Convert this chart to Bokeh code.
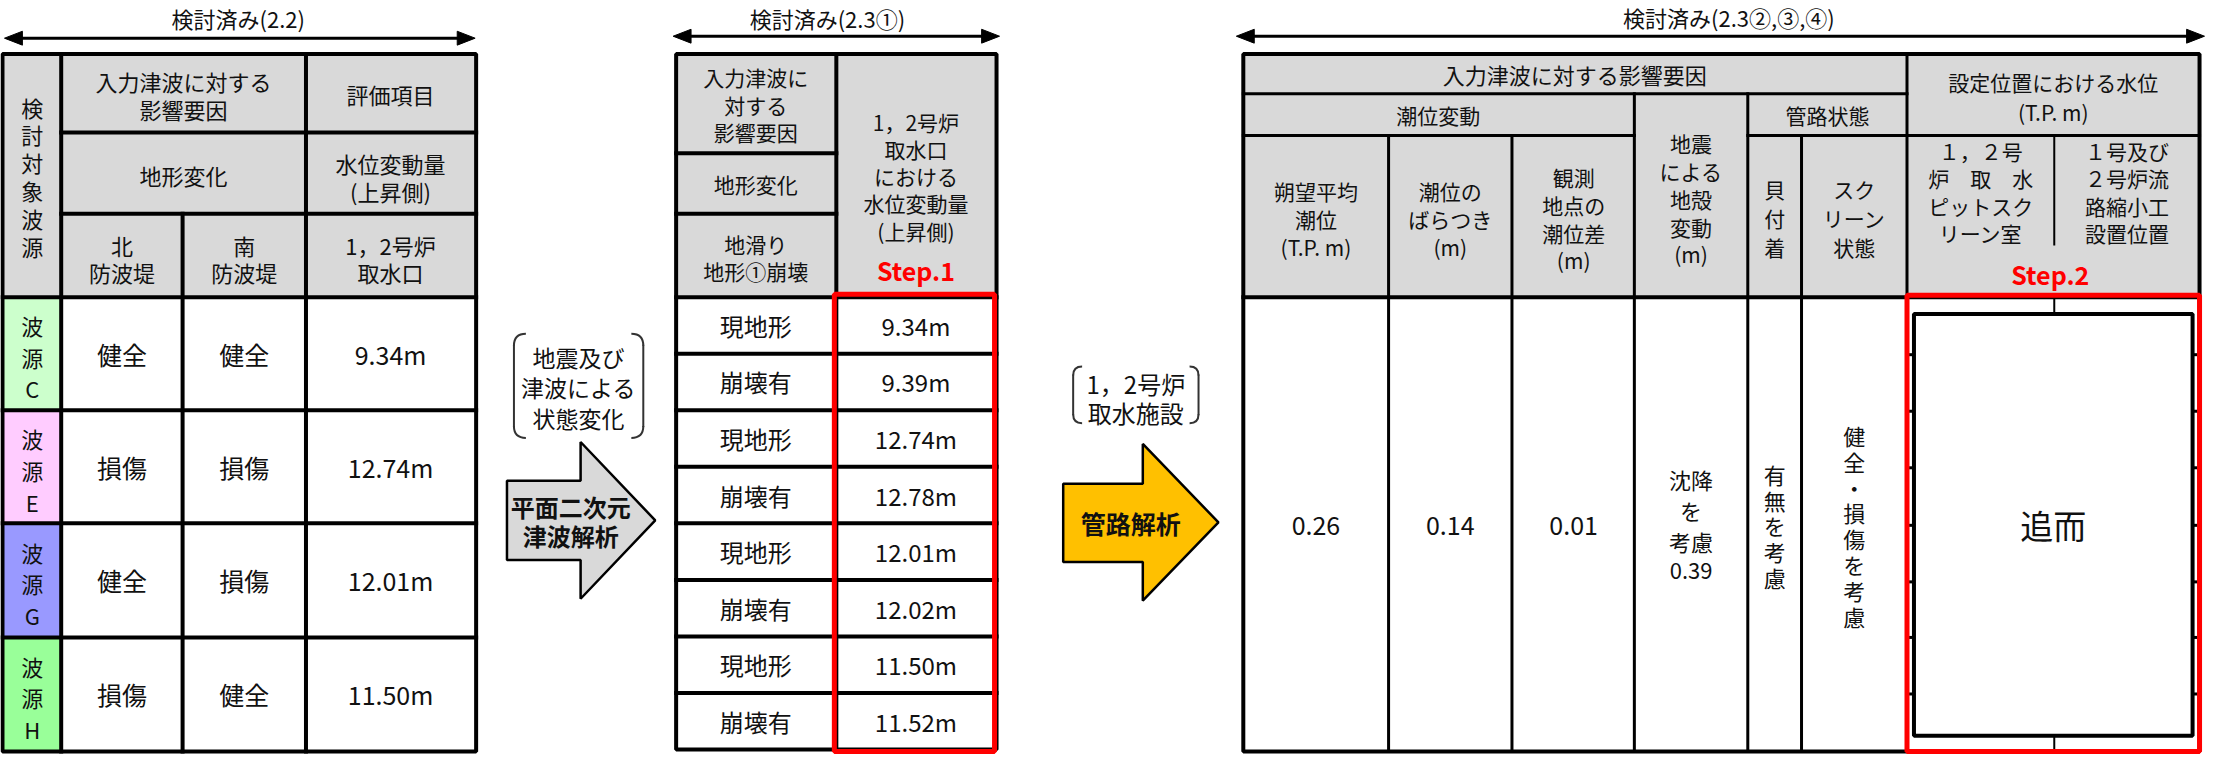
from bokeh.plotting import figure
from bokeh.models import Range1d
from bokeh.core.properties import value
from bokeh.embed import file_html
from bokeh.resources import INLINE

FONT = "Noto Sans CJK JP"

# ---------------- data ----------------
section_titles = ["検討済み(2.2)", "検討済み(2.3①)", "検討済み(2.3②,③,④)"]
wave_sources = ["C", "E", "G", "H"]
north_breakwater = ["健全", "損傷", "健全", "損傷"]
south_breakwater = ["健全", "損傷", "損傷", "健全"]
intake_rise_22 = [9.34, 12.74, 12.01, 11.50]
terrain_states = ["現地形", "崩壊有", "現地形", "崩壊有", "現地形", "崩壊有", "現地形", "崩壊有"]
intake_rise_231 = [9.34, 9.39, 12.74, 12.78, 12.01, 12.02, 11.50, 11.52]
mean_tide_level = 0.26
tide_variation = 0.14
observed_tide_diff = 0.01
crustal_subsidence = 0.39
barnacle_text = "有無を考慮"
screen_text = "健全・損傷を考慮"
pending_text = "追而"
step_labels = ["Step.1", "Step.2"]
arrow_labels = [["平面二次元", "津波解析"], ["管路解析"]]
bracket_labels = [["地震及び", "津波による", "状態変化"], ["1，2号炉", "取水施設"]]

# ---------------- styles ----------------
GRAY = "#d9d9d9"
SRC_COLORS = ["#ccffcc", "#ffccff", "#9999ff", "#99ff99"]
RED = "#ff0000"
ORANGE = "#ffc000"

p = figure(width=2207, height=755, x_range=Range1d(4, 2222), y_range=Range1d(767, 6),
           output_backend="svg", toolbar_location=None, min_border=0,
           x_axis_location=None, y_axis_location=None)
p.grid.visible = False
p.outline_line_color = None
p.background_fill_color = "white"
p.border_fill_color = "white"

texts = {}
def T(x, y, s, size=22, bold=False, color="#111111"):
    d = texts.setdefault((size, bold, color), {"x": [], "y": [], "t": []})
    d["x"].append(x); d["y"].append(y); d["t"].append(s)

def ML(x, yc, lines, spacing, **kw):
    n = len(lines)
    for i, s in enumerate(lines):
        T(x, yc + (i - (n - 1) / 2) * spacing, s, **kw)

def VT(x, yc, s, spacing, **kw):
    ML(x, yc, list(s), spacing, **kw)

segs = {}
def L(x0, y0, x1, y1, w=4, color="black"):
    d = segs.setdefault((w, color), {"x0": [], "y0": [], "x1": [], "y1": []})
    d["x0"].append(x0); d["y0"].append(y0); d["x1"].append(x1); d["y1"].append(y1)

fills = {"l": [], "r": [], "t": [], "b": [], "c": []}
def F(l, r, t, b, c):
    fills["l"].append(l); fills["r"].append(r); fills["t"].append(t); fills["b"].append(b); fills["c"].append(c)

# ---------------- section titles & double arrows ----------------
heads_x, heads_y = [], []
def dbl_arrow(x0, x1, y):
    L(x0 + 10, y, x1 - 10, y, w=3)
    heads_x.extend([[x0, x0 + 18, x0 + 18], [x1, x1 - 18, x1 - 18]])
    heads_y.extend([[y, y - 7, y + 7], [y, y - 7, y + 7]])

title_pos = [(243, 24, 8, 481, 44), (835, 24, 680, 1008, 42), (1741, 23, 1246, 2219, 42)]
for s, (tx, ty, a0, a1, ay) in zip(section_titles, title_pos):
    T(tx, ty, s, size=22)
    dbl_arrow(a0, a1, ay)

# ---------------- left table (2.2) ----------------
LX = [6, 65, 187, 311, 482]
LTOP, LH1, LH2, LHB = 60, 139, 221, 305
LROWS = [305, 419, 533, 648, 763]
F(LX[0], LX[4], LTOP, LHB, GRAY)
for i, c in enumerate(SRC_COLORS):
    F(LX[0], LX[1], LROWS[i], LROWS[i + 1], c)
L(LX[1], LTOP, LX[1], LROWS[-1]); L(LX[3], LTOP, LX[3], LROWS[-1]); L(LX[2], LH2, LX[2], LROWS[-1])
L(LX[1], LH1, LX[4], LH1); L(LX[1], LH2, LX[4], LH2)
for y in LROWS[:-1]:
    L(LX[0], y, LX[4], y)
VT(36, 183, "検討対象波源", 28, size=22)
ML(188, 101, ["入力津波に対する", "影響要因"], 28, size=22)
T(396, 100, "評価項目", size=22)
T(188, 182, "地形変化", size=22)
ML(396, 184, ["水位変動量", "(上昇側)"], 29, size=22)
ML(126, 266, ["北", "防波堤"], 27, size=22)
ML(249, 266, ["南", "防波堤"], 27, size=22)
ML(396, 266, ["1，2号炉", "取水口"], 27, size=22)
for i in range(4):
    rc = (LROWS[i] + LROWS[i + 1]) / 2
    VT(36, rc + 3, "波源" + wave_sources[i], 32, size=22)
    T(126, rc, north_breakwater[i], size=25)
    T(249, rc, south_breakwater[i], size=25)
    T(396, rc, f"{intake_rise_22[i]:.2f}m", size=25)

# ---------------- arrows between tables ----------------
arrow_polys = [
    ([513, 587, 587, 662, 587, 587, 513], [490, 490, 451, 530, 609, 570, 570], GRAY),
    ([1072, 1152, 1152, 1228, 1152, 1152, 1072], [493, 493, 453, 532, 611, 572, 572], ORANGE),
]
ML(577, 531, arrow_labels[0], 29, size=24, bold=True)
T(1140, 533, arrow_labels[1][0], size=25, bold=True)
ML(585, 396, bracket_labels[0], 31, size=23)
ML(1145, 407, bracket_labels[1], 29, size=24)

brk = {"x0": [], "y0": [], "x1": [], "y1": [], "cx": [], "cy": []}
def bracket(xl, xr, yt, yb, r=10):
    for (x0, y0, x1, y1, cx, cy) in [
        (xl + r, yt, xl, yt + r, xl, yt), (xl, yb - r, xl + r, yb, xl, yb),
        (xr - r, yt, xr, yt + r, xr, yt), (xr, yb - r, xr - r, yb, xr, yb)]:
        brk["x0"].append(x0); brk["y0"].append(y0); brk["x1"].append(x1)
        brk["y1"].append(y1); brk["cx"].append(cx); brk["cy"].append(cy)
    L(xl, yt + r, xl, yb - r, w=2, color="#333333")
    L(xr, yt + r, xr, yb - r, w=2, color="#333333")
bracket(520, 650, 342, 447, 12)
bracket(1082, 1208, 375, 432, 9)

# ---------------- middle table (2.3①) ----------------
MX = [683, 844, 1005]
MH1, MH2 = 160, 221
MROWS = [305 + 57 * i for i in range(9)]
F(MX[0], MX[2], LTOP, LHB, GRAY)
L(MX[1], LTOP, MX[1], MROWS[-1])
L(MX[0], MH1, MX[1], MH1); L(MX[0], MH2, MX[1], MH2)
for y in MROWS[:-1]:
    L(MX[0], y, MX[2], y)
ML(763, 111, ["入力津波に", "対する", "影響要因"], 28, size=21)
T(763, 191, "地形変化", size=21)
ML(763, 265, ["地滑り", "地形①崩壊"], 27, size=21)
ML(924, 183, ["1，2号炉", "取水口", "における", "水位変動量", "(上昇側)"], 27.5, size=21)
T(924, 278, step_labels[0], size=25, bold=True, color=RED)
for i in range(8):
    rc = (MROWS[i] + MROWS[i + 1]) / 2
    T(763, rc, terrain_states[i], size=24)
    T(924, rc, f"{intake_rise_231[i]:.2f}m", size=24)

# ---------------- right table (2.3②,③,④) ----------------
RX = [1253, 1399, 1523, 1646, 1760, 1814, 1920, 2068, 2214]
RH1, RH2, RHB, RBOT = 100, 142, 305, 763
F(RX[0], RX[8], LTOP, RHB, GRAY)
L(RX[0], RH1, RX[6], RH1, w=3)
L(RX[0], RH2, RX[3], RH2, w=3); L(RX[4], RH2, RX[8], RH2, w=3)
for x in (RX[1], RX[2], RX[5]):
    L(x, RH2, x, RBOT, w=3)
for x in (RX[3], RX[4]):
    L(x, RH1, x, RBOT, w=3)
L(RX[6], LTOP, RX[6], RBOT, w=3)
L(RX[7], RH2, RX[7], 252, w=2)
L(RX[0], RHB, RX[8], RHB, w=4)

T(1586, 80, "入力津波に対する影響要因", size=22)
ML(2067, 103, ["設定位置における水位", "(T.P. m)"], 30, size=21)
T(1449, 121, "潮位変動", size=21)
T(1840, 121, "管路状態", size=21)
ML(1703, 206, ["地震", "による", "地殻", "変動", "(m)"], 28, size=21)
ML(1326, 226, ["朔望平均", "潮位", "(T.P. m)"], 28, size=21)
ML(1461, 226, ["潮位の", "ばらつき", "(m)"], 28, size=21)
ML(1585, 226, ["観測", "地点の", "潮位差", "(m)"], 28, size=21)
VT(1787, 225, "貝付着", 29, size=21)
ML(1867, 225, ["スク", "リーン", "状態"], 29, size=21)
ML(1994, 199, ["１，２号", "炉　取　水", "ピットスク", "リーン室"], 27.5, size=21)
ML(2141, 199, ["１号及び", "２号炉流", "路縮小工", "設置位置"], 27.5, size=21)
T(2064, 282, step_labels[1], size=25, bold=True, color=RED)

dc = 535
T(1326, dc, f"{mean_tide_level:.2f}", size=25)
T(1461, dc, f"{tide_variation:.2f}", size=25)
T(1585, dc, f"{observed_tide_diff:.2f}", size=25)
ML(1703, dc, ["沈降", "を", "考慮", f"{crustal_subsidence:.2f}"], 31, size=22)
VT(1787, dc, barnacle_text, 26, size=22)
VT(1867, dc, screen_text, 26, size=22)
L(RX[7], RHB, RX[7], 322, w=2); L(RX[7], 747, RX[7], RBOT, w=2)
for y in [363, 420, 477, 535, 592, 648, 705]:
    L(1920, y, 1928, y, w=3); L(2206, y, 2214, y, w=3)
T(2067, dc, pending_text, size=33)

# ---------------- draw ----------------
p.quad(left=fills["l"], right=fills["r"], top=fills["t"], bottom=fills["b"],
       fill_color=fills["c"], line_color=None)
for (w, c), d in segs.items():
    p.segment(x0=d["x0"], y0=d["y0"], x1=d["x1"], y1=d["y1"], line_width=w,
              line_color=c, line_cap="square")
p.patches(xs=heads_x, ys=heads_y, fill_color="black", line_color="black", line_width=1)
for (l, r, t, b) in [(LX[0], LX[4], LTOP, LROWS[-1]), (MX[0], MX[2], LTOP, MROWS[-1]),
                     (RX[0], RX[8], LTOP, RBOT)]:
    p.quad(left=l, right=r, top=t, bottom=b, fill_color=None, line_color="black", line_width=4)
p.quad(left=1927, right=2207, top=322, bottom=747, fill_color="white",
       line_color="black", line_width=4)
for xs, ys, c in arrow_polys:
    p.patch(x=xs, y=ys, fill_color=c, line_color="black", line_width=2.5)
p.quadratic(x0=brk["x0"], y0=brk["y0"], x1=brk["x1"], y1=brk["y1"],
            cx=brk["cx"], cy=brk["cy"], line_color="#333333", line_width=2)
p.quad(left=[842, 1920], right=[1003, 2214], top=[302, 303], bottom=[763, 763],
       fill_color=None, line_color=RED, line_width=5)

for (size, bold, color), d in texts.items():
    p.text(x=d["x"], y=d["y"], text=d["t"], text_font=value(FONT),
           text_font_size=value(f"{size}px"), text_font_style="bold" if bold else "normal",
           text_color=color, text_align="center", text_baseline="middle")

open("out.html", "w").write(file_html(p, INLINE))
